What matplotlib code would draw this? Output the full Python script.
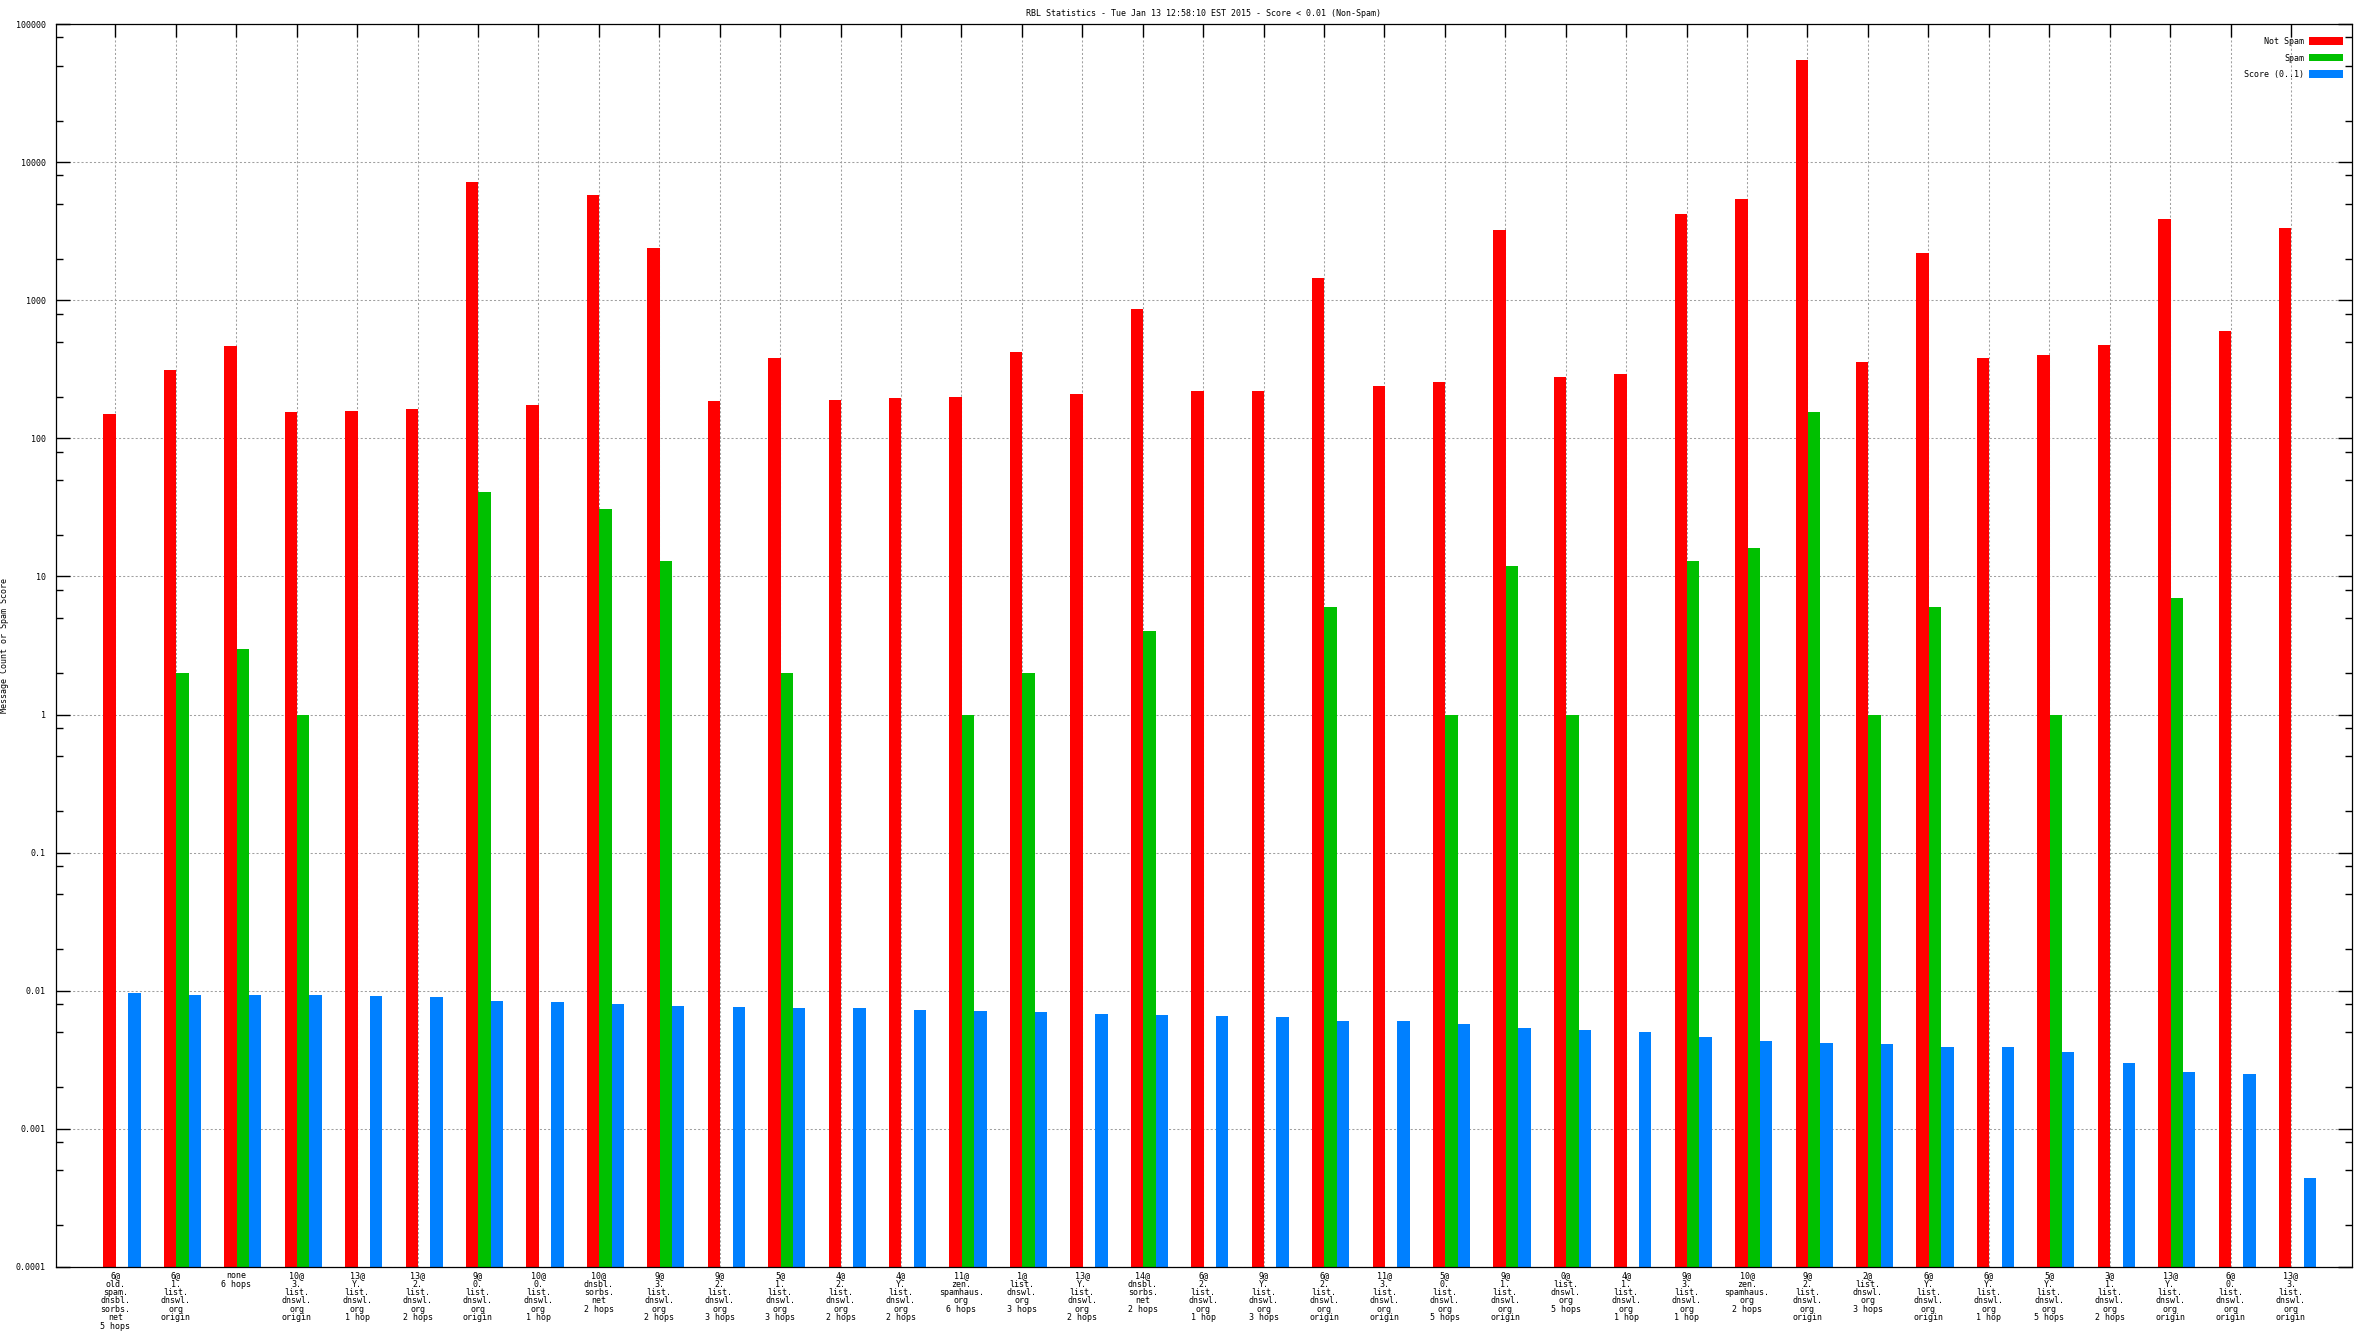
import numpy as np
import matplotlib
matplotlib.use("Agg")
import matplotlib.pyplot as plt
from matplotlib.ticker import FixedLocator, FuncFormatter

plt.rcParams['font.family'] = ['DejaVu Sans Mono']

title = "RBL Statistics - Tue Jan 13 12:58:10 EST 2015 - Score < 0.01 (Non-Spam)"

labels = [
    "6@\nold.\nspam.\ndnsbl.\nsorbs.\nnet\n5 hops",
    "6@\n1.\nlist.\ndnswl.\norg\norigin",
    "none\n6 hops",
    "10@\n3.\nlist.\ndnswl.\norg\norigin",
    "13@\nY.\nlist.\ndnswl.\norg\n1 hop",
    "13@\n2.\nlist.\ndnswl.\norg\n2 hops",
    "9@\n0.\nlist.\ndnswl.\norg\norigin",
    "10@\n0.\nlist.\ndnswl.\norg\n1 hop",
    "10@\ndnsbl.\nsorbs.\nnet\n2 hops",
    "9@\n3.\nlist.\ndnswl.\norg\n2 hops",
    "9@\n2.\nlist.\ndnswl.\norg\n3 hops",
    "5@\n1.\nlist.\ndnswl.\norg\n3 hops",
    "4@\n2.\nlist.\ndnswl.\norg\n2 hops",
    "4@\nY.\nlist.\ndnswl.\norg\n2 hops",
    "11@\nzen.\nspamhaus.\norg\n6 hops",
    "1@\nlist.\ndnswl.\norg\n3 hops",
    "13@\nY.\nlist.\ndnswl.\norg\n2 hops",
    "14@\ndnsbl.\nsorbs.\nnet\n2 hops",
    "6@\n2.\nlist.\ndnswl.\norg\n1 hop",
    "9@\nY.\nlist.\ndnswl.\norg\n3 hops",
    "6@\n2.\nlist.\ndnswl.\norg\norigin",
    "11@\n3.\nlist.\ndnswl.\norg\norigin",
    "5@\n0.\nlist.\ndnswl.\norg\n5 hops",
    "9@\n1.\nlist.\ndnswl.\norg\norigin",
    "0@\nlist.\ndnswl.\norg\n5 hops",
    "4@\n1.\nlist.\ndnswl.\norg\n1 hop",
    "9@\n3.\nlist.\ndnswl.\norg\n1 hop",
    "10@\nzen.\nspamhaus.\norg\n2 hops",
    "9@\n2.\nlist.\ndnswl.\norg\norigin",
    "2@\nlist.\ndnswl.\norg\n3 hops",
    "6@\nY.\nlist.\ndnswl.\norg\norigin",
    "6@\nY.\nlist.\ndnswl.\norg\n1 hop",
    "5@\nY.\nlist.\ndnswl.\norg\n5 hops",
    "3@\n1.\nlist.\ndnswl.\norg\n2 hops",
    "13@\nY.\nlist.\ndnswl.\norg\norigin",
    "6@\n0.\nlist.\ndnswl.\norg\norigin",
    "13@\n3.\nlist.\ndnswl.\norg\norigin",
]

not_spam = [150, 310, 465, 155, 158, 162, 7200, 175, 5800, 2400, 187, 380, 190,
            197, 200, 420, 210, 870, 220, 220, 1450, 240, 255, 3250, 280, 290,
            4200, 5400, 55000, 355, 2200, 380, 400, 475, 3900, 600, 3350]

spam = [0, 2, 3, 1, 0, 0, 41, 0, 31, 13, 0, 2, 0, 0, 1, 2, 0, 4, 0, 0, 6, 0,
        1, 12, 1, 0, 13, 16, 155, 1, 6, 0, 1, 0, 7, 0, 0]

score = [0.0097, 0.0093, 0.0093, 0.0093, 0.0092, 0.0090, 0.0084, 0.0083, 0.0080,
         0.0078, 0.0076, 0.0075, 0.0075, 0.0073, 0.0071, 0.0070, 0.0068, 0.0067,
         0.0066, 0.0065, 0.0060, 0.0060, 0.0057, 0.0054, 0.0052, 0.0050, 0.0046,
         0.0043, 0.0042, 0.0041, 0.0039, 0.0039, 0.0036, 0.0030, 0.0026, 0.0025,
         0.00044]

series_names = ["Not Spam", "Spam", "Score (0..1)"]
colors = ["#ff0000", "#00c000", "#0080ff"]

fig = plt.figure(figsize=(23.68, 13.32), dpi=100)
ax = fig.add_axes([55.7 / 2368, 1 - 1267 / 1332, (2352 - 55.7) / 2368, (1267 - 24) / 1332])

x = np.arange(len(labels))
w = 0.205
for k, (vals, name, c) in enumerate(zip([not_spam, spam, score], series_names, colors)):
    ax.bar(x + (k - 1) * w, vals, w, color=c, label=name, linewidth=0, zorder=2)

ax.set_yscale("log")
ax.set_ylim(1e-4, 1e5)
ax.set_xlim(-1.097, 36.9)

majors = [10.0 ** e for e in range(-4, 6)]
ax.yaxis.set_major_locator(FixedLocator(majors))
ax.yaxis.set_major_formatter(FuncFormatter(lambda v, p: ("%g" % v) if v < 1 else "%d" % v))
minors = [m * 10.0 ** e for e in range(-4, 5) for m in (2, 5, 8)]
ax.yaxis.set_minor_locator(FixedLocator(minors))
ax.yaxis.set_minor_formatter(FuncFormatter(lambda v, p: ""))

ax.set_xticks(x - 0.11)
ax.set_xticklabels(labels, fontsize=6, linespacing=0.92, va="top")
ax.tick_params(axis="x", which="both", direction="in", length=9, width=1, top=True, bottom=False, pad=3)
ax.tick_params(axis="y", which="major", direction="in", length=10, width=1, left=True, right=True, labelsize=6, pad=7)
ax.tick_params(axis="y", which="minor", direction="in", length=5, width=1, left=True, right=True)
ax.set_axisbelow(True)

ax.grid(True, which="major", axis="both", color="#a0a0a0", linewidth=0.75, linestyle=(0, (2, 2)))

for s in ax.spines.values():
    s.set_linewidth(0.9)

ax.set_ylabel("Message Count or Spam Score", fontsize=6, labelpad=0)
ax.yaxis.set_label_coords((9 - 55.7) / 2296, 0.5)
ax.set_title(title, fontsize=6, pad=6)

ax.legend(loc="upper right", bbox_to_anchor=(0.9961, 0.9895), frameon=False, markerfirst=False,
          fontsize=6, handlelength=4.1, handleheight=1.0, handletextpad=0.6,
          labelspacing=0.9, borderpad=0, borderaxespad=0)

fig.savefig("out.png", dpi=100)
